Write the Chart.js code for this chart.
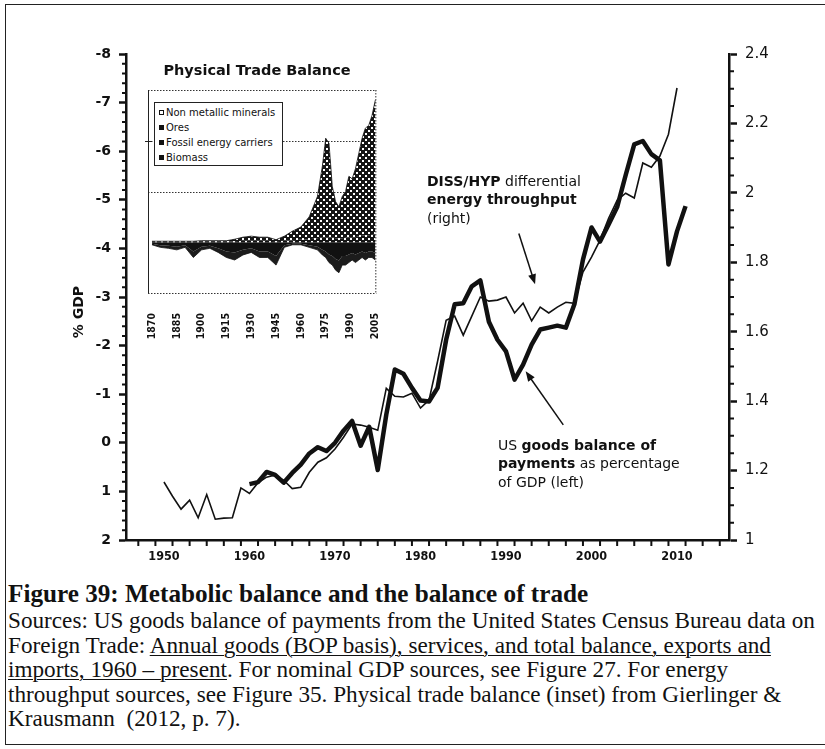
<!DOCTYPE html>
<html>
<head>
<meta charset="utf-8">
<script src="https://cdn.jsdelivr.net/npm/chart.js@4.4.1/dist/chart.umd.min.js"></script>
<style>
  body { margin: 0; background: #fff; }
  #page { position: relative; width: 825px; height: 749px; overflow: hidden; background: #fff; }
  #frame { position: absolute; left: 5px; top: 4px; width: 900px; height: 741px; border: 1.5px solid #222; border-right: none; box-sizing: border-box; }
  canvas { position: absolute; }
  #ytitle { position: absolute; left: 78px; top: 312px; transform: translate(-50%, -50%) rotate(-90deg); font: bold 14px 'DejaVu Sans', sans-serif; white-space: nowrap; color: #111; }
  #insetTitle { position: absolute; left: 257px; top: 70px; transform: translate(-50%, -50%); font: bold 14.5px 'DejaVu Sans', sans-serif; white-space: nowrap; color: #111; }
  #legend { position: absolute; left: 154px; top: 102px; width: 129px; height: 64px; border: 1px solid #222; background: #fff; box-sizing: border-box; font: 10px 'DejaVu Sans', sans-serif; padding: 2px 0 0 4px; line-height: 15px; color: #111; white-space: nowrap; }
  #legend i { display: inline-block; width: 5px; height: 5px; background: #111; margin-right: 2px; vertical-align: 1px; }
  #legend i.open { background: #fff; border: 1px solid #111; width: 3px; height: 3px; }
  .note { position: absolute; font: 14px 'DejaVu Sans', sans-serif; line-height: 18.3px; white-space: nowrap; color: #111; }
  #caption { position: absolute; left: 8px; top: 580px; font-family: 'Liberation Serif', 'Times New Roman', serif; color: #111; white-space: nowrap; }
  #caption .title { font-weight: bold; font-size: 25.2px; line-height: 28px; }
  #caption .body { font-size: 23.2px; line-height: 24.5px; }
  u { text-decoration-thickness: 1px; text-underline-offset: 2px; }
</style>
</head>
<body>
<div id="page">
  <div id="frame"></div>
  <canvas id="main" width="825" height="575" style="left:0;top:0"></canvas>
  <canvas id="inset" width="300" height="280" style="left:100px;top:60px"></canvas>
  <div id="ytitle">% GDP</div>
  <div id="insetTitle">Physical Trade Balance</div>
  <div id="legend">
    <div><i class="open"></i>Non metallic minerals</div>
    <div><i></i>Ores</div>
    <div><i></i>Fossil energy carriers</div>
    <div><i></i>Biomass</div>
  </div>
  <div class="note" style="left:427px;top:172px"><b>DISS/HYP</b> differential<br><b>energy throughput</b><br>(right)</div>
  <div class="note" style="left:498px;top:436px">US <b>goods balance of</b><br><b>payments</b> as percentage<br>of GDP (left)</div>
  <div id="caption">
    <div class="title">Figure 39: Metabolic balance and the balance of trade</div>
    <div class="body">Sources: US goods balance of payments from the United States Census Bureau data on<br>
    Foreign Trade: <u>Annual goods (BOP basis), services, and total balance, exports and</u><br>
    <u>imports, 1960 – present</u>. For nominal GDP sources, see Figure 27. For energy<br>
    throughput sources, see Figure 35. Physical trade balance (inset) from Gierlinger &amp;<br>
    Krausmann&nbsp; (2012, p. 7).</div>
  </div>
</div>
<script>
// US goods balance of payments, % of GDP (left axis, drawn reversed)
const goodsYears = [1960, 1961, 1962, 1963, 1964, 1965, 1966, 1967, 1968, 1969, 1970,
  1971, 1972, 1973, 1974, 1975, 1976, 1977, 1978, 1979, 1980, 1981, 1982, 1983, 1984, 1985,
  1986, 1987, 1988, 1989, 1990, 1991, 1992, 1993, 1994, 1995, 1996, 1997, 1998, 1999, 2000,
  2001, 2002, 2003, 2004, 2005, 2006, 2007, 2008, 2009, 2010, 2011];
const goodsBalance = [0.85, 0.81, 0.60, 0.66, 0.82, 0.62, 0.45, 0.22, 0.09, 0.17, 0.0,
  -0.25, -0.45, 0.06, -0.33, 0.56, -0.58, -1.51, -1.42, -1.13, -0.87, -0.85, -1.13, -2.12, -2.85, -2.87,
  -3.22, -3.34, -2.49, -2.12, -1.88, -1.30, -1.61, -2.02, -2.33, -2.37, -2.41, -2.37, -2.85, -3.77, -4.43,
  -4.14, -4.49, -4.85, -5.51, -6.14, -6.21, -5.94, -5.81, -3.67, -4.35, -4.87];

// DISS/HYP differential energy throughput (right axis)
const energyYears = [1950, 1951, 1952, 1953, 1954, 1955, 1956, 1957, 1958, 1959, 1960,
  1961, 1962, 1963, 1964, 1965, 1966, 1967, 1968, 1969, 1970, 1971, 1972, 1973, 1974, 1975,
  1976, 1977, 1978, 1979, 1980, 1981, 1982, 1983, 1984, 1985, 1986, 1987, 1988, 1989, 1990,
  1991, 1992, 1993, 1994, 1995, 1996, 1997, 1998, 1999, 2000, 2001, 2002, 2003, 2004, 2005,
  2006, 2007, 2008, 2009, 2010];
const energyThroughput = [1.167, 1.126, 1.089, 1.115, 1.064, 1.131, 1.060, 1.063, 1.064, 1.150, 1.134,
  1.165, 1.181, 1.187, 1.172, 1.148, 1.152, 1.195, 1.224, 1.237, 1.262, 1.296, 1.334, 1.331, 1.325, 1.316,
  1.437, 1.414, 1.412, 1.423, 1.380, 1.403, 1.515, 1.633, 1.645, 1.590, 1.645, 1.700, 1.688, 1.691, 1.700,
  1.654, 1.682, 1.631, 1.671, 1.654, 1.671, 1.685, 1.682, 1.772, 1.815, 1.864, 1.927, 1.979, 1.999, 1.985,
  2.086, 2.074, 2.106, 2.169, 2.302];

const xLabelYears = [1950, 1960, 1970, 1980, 1990, 2000, 2010];
const leftTickValues = [-8, -7, -6, -5, -4, -3, -2, -1, 0, 1, 2];
const rightTickValues = [1, 1.2, 1.4, 1.6, 1.8, 2, 2.2, 2.4];

// inset: physical trade balance by material group
const insetYears = [1870, 1875, 1880, 1885, 1890, 1895, 1900, 1905, 1910, 1915, 1920, 1925, 1930,
  1935, 1940, 1945, 1950, 1955, 1960, 1965, 1970, 1973, 1975, 1977, 1979, 1981, 1983, 1985,
  1987, 1989, 1991, 1993, 1995, 1997, 1999, 2001, 2003, 2005];
const nonMetallic = [0.01, 0.01, 0.01, 0.01, 0.01, 0.01, 0.01, 0.01, 0.01, 0.01, 0.02, 0.03, 0.03,
  0.03, 0.03, 0.02, 0.03, 0.04, 0.05, 0.06, 0.08, 0.1, 0.1, 0.1, 0.1, 0.08, 0.07, 0.08,
  0.09, 0.1, 0.1, 0.1, 0.12, 0.13, 0.14, 0.14, 0.15, 0.15];
const fossilEnergy = [0.01, 0.01, 0.01, 0.01, 0.01, 0.01, 0.02, 0.02, 0.02, 0.02, 0.04, 0.07, 0.09,
  0.07, 0.07, 0.03, 0.09, 0.18, 0.25, 0.44, 0.82, 1.4, 1.95, 1.85, 1.0, 0.72, 0.63, 0.82,
  0.91, 1.2, 1.15, 1.35, 1.63, 1.92, 2.11, 2.16, 2.35, 2.65];
const ores = [-0.03, -0.06, -0.07, -0.09, -0.06, -0.18, -0.09, -0.07, -0.12, -0.18, -0.2, -0.15, -0.12,
  -0.18, -0.18, -0.27, -0.06, -0.03, -0.03, -0.06, -0.09, -0.15, -0.18, -0.24, -0.27, -0.33, -0.36, -0.27,
  -0.27, -0.24, -0.21, -0.24, -0.21, -0.18, -0.21, -0.18, -0.18, -0.21];
const biomass = [-0.02, -0.04, -0.05, -0.06, -0.04, -0.12, -0.06, -0.05, -0.08, -0.12, -0.15, -0.1, -0.08,
  -0.12, -0.12, -0.18, -0.04, -0.02, -0.02, -0.04, -0.06, -0.1, -0.12, -0.16, -0.18, -0.22, -0.24, -0.18,
  -0.18, -0.16, -0.14, -0.16, -0.14, -0.12, -0.14, -0.12, -0.12, -0.14];
const insetLabelYears = [1870, 1885, 1900, 1915, 1930, 1945, 1960, 1975, 1990, 2005];
const insetGridValues = [-1, 1, 2, 3];

// arrows from the two notes to their lines, in data units
const arrows = [
  { axis: 'y2', from: [1991.5, 1.883], to: [1993.4, 1.737] },
  { axis: 'y', from: [1996.7, -0.37], to: [1992.3, -1.47] }
];

const ink = '#111';
Chart.defaults.color = ink;
Chart.defaults.font.family = "'DejaVu Sans', sans-serif";

function pairs(xs, ys) {
  return xs.map((x, i) => ({ x: x, y: ys[i] }));
}

function range(from, to, step) {
  const out = [];
  for (let v = from; v <= to + 1e-9; v += step) out.push(Math.round(v * 100) / 100);
  return out;
}

// tick marks sit on category edges (odd years), labels on the decade itself
const xMarks = range(1947, 2015, 2);
const leftMinor = range(-8, 2, 0.2).filter(v => Math.abs(v - Math.round(v)) > 1e-6);
const rightMinor = range(1, 2.4, 0.05).filter(v => Math.abs(v * 5 - Math.round(v * 5)) > 1e-6);

const axisExtras = {
  id: 'axisExtras',
  afterDraw(chart) {
    const { ctx, scales } = chart;
    ctx.save();
    ctx.strokeStyle = ink;
    ctx.lineWidth = 2;
    ctx.beginPath();
    xMarks.forEach(v => {
      const p = scales.x.getPixelForValue(v);
      ctx.moveTo(p, scales.x.top);
      ctx.lineTo(p, scales.x.top + 6);
    });
    leftMinor.forEach(v => {
      const p = scales.y.getPixelForValue(v);
      ctx.moveTo(scales.y.right, p);
      ctx.lineTo(scales.y.right - 4, p);
    });
    rightMinor.forEach(v => {
      const p = scales.y2.getPixelForValue(v);
      ctx.moveTo(scales.y2.left, p);
      ctx.lineTo(scales.y2.left + 5, p);
    });
    ctx.stroke();

    ctx.lineWidth = 1.5;
    ctx.fillStyle = ink;
    arrows.forEach(a => {
      const x1 = scales.x.getPixelForValue(a.from[0]);
      const y1 = scales[a.axis].getPixelForValue(a.from[1]);
      const x2 = scales.x.getPixelForValue(a.to[0]);
      const y2 = scales[a.axis].getPixelForValue(a.to[1]);
      const ang = Math.atan2(y2 - y1, x2 - x1);
      ctx.beginPath();
      ctx.moveTo(x1, y1);
      ctx.lineTo(x2 - 6 * Math.cos(ang), y2 - 6 * Math.sin(ang));
      ctx.stroke();
      ctx.beginPath();
      ctx.moveTo(x2, y2);
      ctx.lineTo(x2 - 10 * Math.cos(ang) + 4 * Math.sin(ang), y2 - 10 * Math.sin(ang) - 4 * Math.cos(ang));
      ctx.lineTo(x2 - 10 * Math.cos(ang) - 4 * Math.sin(ang), y2 - 10 * Math.sin(ang) + 4 * Math.cos(ang));
      ctx.closePath();
      ctx.fill();
    });
    ctx.restore();
  }
};

new Chart(document.getElementById('main'), {
  type: 'line',
  data: {
    datasets: [{
      label: 'US goods balance of payments (% GDP)',
      data: pairs(goodsYears, goodsBalance),
      yAxisID: 'y',
      borderColor: ink,
      borderWidth: 4.5,
      pointRadius: 0,
      borderJoinStyle: 'round',
      tension: 0
    }, {
      label: 'DISS/HYP differential energy throughput',
      data: pairs(energyYears, energyThroughput),
      yAxisID: 'y2',
      borderColor: ink,
      borderWidth: 1.6,
      pointRadius: 0,
      tension: 0
    }]
  },
  options: {
    responsive: false,
    animation: false,
    layout: { padding: { top: 54, left: 0, right: 0, bottom: 0 } },
    plugins: { legend: { display: false }, tooltip: { enabled: false } },
    scales: {
      x: {
        type: 'linear',
        min: 1945.56,
        max: 2016.08,
        afterBuildTicks: s => { s.ticks = xLabelYears.map(v => ({ value: v })); },
        afterFit: s => { s.height = 35; },
        border: { color: ink, width: 2.5 },
        grid: { drawOnChartArea: false, tickLength: 6, tickColor: 'rgba(0,0,0,0)' },
        ticks: {
          autoSkip: false,
          maxRotation: 0,
          padding: 3,
          font: { family: "'DejaVu Sans Condensed', 'Liberation Sans Narrow', sans-serif", size: 12.5, weight: 'bold' },
          callback: v => String(v)
        }
      },
      y: {
        position: 'left',
        reverse: true,
        min: -8,
        max: 2,
        afterBuildTicks: s => { s.ticks = leftTickValues.map(v => ({ value: v })); },
        afterFit: s => { s.width = 126; },
        border: { color: ink, width: 2.5 },
        grid: { drawOnChartArea: false, tickLength: 7, tickWidth: 2.5, tickColor: ink },
        ticks: { padding: 8, font: { size: 14, weight: 'bold' }, callback: v => String(v) }
      },
      y2: {
        position: 'right',
        min: 1,
        max: 2.4,
        afterBuildTicks: s => { s.ticks = rightTickValues.map(v => ({ value: v })); },
        afterFit: s => { s.width = 96; },
        border: { color: ink, width: 2.5 },
        grid: { drawOnChartArea: false, tickLength: 8, tickWidth: 2.5, tickColor: ink },
        ticks: { padding: 8, font: { size: 15 }, callback: v => String(Math.round(v * 10) / 10) }
      }
    }
  },
  plugins: [axisExtras]
});

// dotted fill used for the import side of the inset
function dotPattern(ctx) {
  const c = document.createElement('canvas');
  c.width = 6;
  c.height = 6;
  const g = c.getContext('2d');
  g.fillStyle = '#151515';
  g.fillRect(0, 0, 6, 6);
  g.fillStyle = '#fff';
  g.fillRect(1, 1, 2, 2);
  g.fillRect(4, 4, 2, 2);
  return ctx.createPattern(c, 'repeat');
}

const insetCanvas = document.getElementById('inset');
const dots = dotPattern(insetCanvas.getContext('2d'));

const insetFrame = {
  id: 'insetFrame',
  beforeDatasetsDraw(chart) {
    const { ctx, chartArea: a, scales } = chart;
    ctx.save();
    ctx.strokeStyle = '#333';
    ctx.lineWidth = 1;
    ctx.setLineDash([1.5, 1.5]);
    ctx.beginPath();
    insetGridValues.forEach(v => {
      const p = Math.round(scales.y.getPixelForValue(v)) + 0.5;
      ctx.moveTo(a.left, p);
      ctx.lineTo(a.right, p);
    });
    ctx.moveTo(a.right - 0.5, a.top);
    ctx.lineTo(a.right - 0.5, a.bottom);
    ctx.stroke();
    ctx.restore();
  },
  afterDatasetsDraw(chart) {
    const { ctx, chartArea: a, scales } = chart;
    const p = Math.round(scales.y.getPixelForValue(2)) + 0.5;
    ctx.save();
    ctx.strokeStyle = '#222';
    ctx.lineWidth = 1;
    ctx.beginPath();
    ctx.moveTo(a.left + 0.5, a.top);
    ctx.lineTo(a.left + 0.5, a.bottom);
    ctx.moveTo(a.left - 3, p);
    ctx.lineTo(a.left + 4, p);
    ctx.stroke();
    ctx.restore();
  }
};

new Chart(insetCanvas, {
  type: 'line',
  data: {
    datasets: [{
      label: 'Non metallic minerals',
      data: pairs(insetYears, nonMetallic),
      backgroundColor: dots,
      borderWidth: 0,
      fill: 'origin'
    }, {
      label: 'Fossil energy carriers',
      data: pairs(insetYears, fossilEnergy),
      backgroundColor: dots,
      borderColor: ink,
      borderWidth: 0.8,
      fill: '-1'
    }, {
      label: 'Ores',
      data: pairs(insetYears, ores),
      backgroundColor: ink,
      borderWidth: 0,
      fill: 'origin'
    }, {
      label: 'Biomass',
      data: pairs(insetYears, biomass),
      backgroundColor: '#1c1c1c',
      borderColor: ink,
      borderWidth: 0.8,
      fill: '-1'
    }]
  },
  options: {
    responsive: false,
    animation: false,
    elements: { point: { radius: 0 }, line: { tension: 0 } },
    layout: { padding: { top: 30, left: 0, right: 17, bottom: 0 } },
    plugins: { legend: { display: false }, tooltip: { enabled: false } },
    scales: {
      x: {
        type: 'linear',
        min: 1867.6,
        max: 2005.6,
        afterBuildTicks: s => { s.ticks = insetLabelYears.map(v => ({ value: v })); },
        afterFit: s => { s.height = 47; },
        border: { display: false },
        grid: { display: false },
        ticks: {
          autoSkip: false,
          minRotation: 90,
          maxRotation: 90,
          padding: 12,
          font: { family: "'Liberation Sans Narrow', 'DejaVu Sans Condensed', sans-serif", size: 10.5, weight: 'bold' },
          callback: v => String(v)
        }
      },
      y: {
        stacked: true,
        min: -1,
        max: 3,
        afterFit: s => { s.width = 48; },
        border: { display: false },
        grid: { display: false },
        ticks: { display: false }
      }
    }
  },
  plugins: [insetFrame]
});
</script>
</body>
</html>
